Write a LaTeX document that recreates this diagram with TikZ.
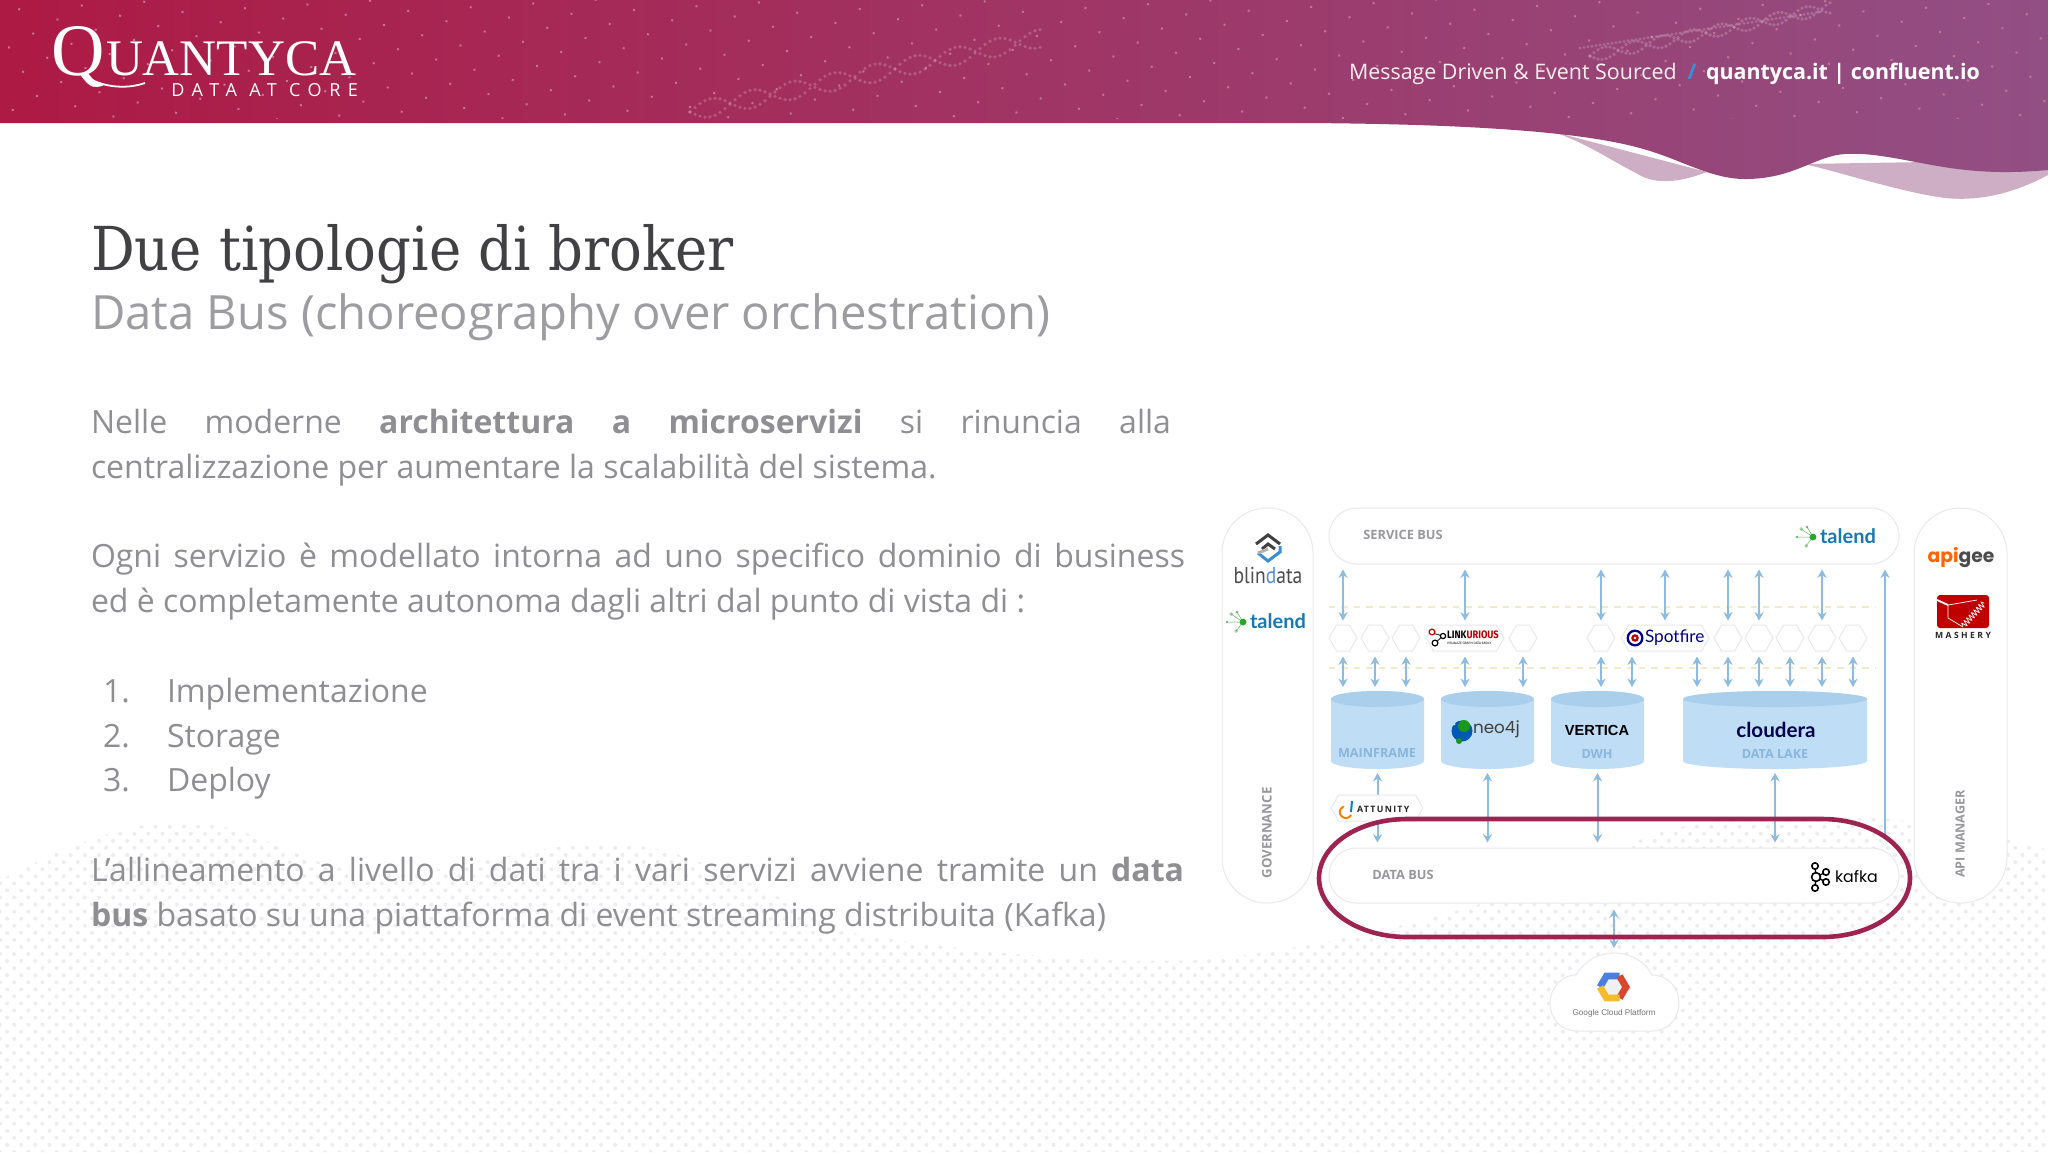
\documentclass[tikz,border=0pt]{standalone}
\usepackage{fontspec}
\usetikzlibrary{arrows.meta,shapes.symbols,patterns.meta,decorations.pathmorphing}
\setmainfont{Open Sans}
\newfontfamily\slabfont{DejaVu Serif Condensed}
\newfontfamily\logofont{Liberation Serif}
\newfontfamily\latofont{Lato}
\newfontfamily\popfont{Poppins}
\newfontfamily\ptfont{PT Sans}
\newfontfamily\firafont{Fira Sans}
\newfontfamily\helvfont{Liberation Sans}

\definecolor{headL}{HTML}{AD1A44}
\definecolor{headM}{HTML}{A42D5F}
\definecolor{headR}{HTML}{924F84}
\definecolor{waveC}{HTML}{CDAEC5}
\definecolor{bodyC}{HTML}{8F8F93}
\definecolor{subC}{HTML}{9D9DA1}
\definecolor{titleC}{HTML}{414144}
\definecolor{edgeC}{HTML}{E9E9EE}
\definecolor{flowC}{HTML}{8DBCE0}
\definecolor{zoneC}{HTML}{EEEDCB}
\definecolor{cylB}{HTML}{BFDDF4}
\definecolor{cylT}{HTML}{AACFEC}
\definecolor{cylL}{HTML}{88B6DC}
\definecolor{ringC}{HTML}{9E2350}
\definecolor{busC}{HTML}{98989C}
\definecolor{taleC}{HTML}{1878B4}
\definecolor{gcpB}{HTML}{4A7FE0}
\definecolor{gcpR}{HTML}{D9472F}
\definecolor{gcpY}{HTML}{F2BC2C}
\definecolor{dotC}{HTML}{EFECF0}

\newcommand\PX{0.5pt}
\newcommand\fs[2]{\fontsize{#1}{#2}\selectfont}
\newcommand\drum[2]{
  \fill[cylB] ([yshift=-8*\PX]#1.north west) -- ([yshift=8*\PX]#1.south west)
  arc[start angle=180,end angle=360,x radius=#2*\PX,y radius=8*\PX]
  -- ([yshift=-8*\PX]#1.north east) arc[start angle=0,end angle=180,x radius=#2*\PX,y radius=8*\PX] -- cycle;
  \fill[cylT] ([yshift=-8*\PX]#1.north west) arc[start angle=180,end angle=540,x radius=#2*\PX,y radius=8*\PX];
}

\tikzset{
  bare/.style={inner sep=0pt,outer sep=0pt},
  para/.style={bare,anchor=north west,align=justify,text=bodyC,font=\fs{16}{22.4}},
  item/.style={bare,anchor=base west,text=bodyC,font=\fs{16}{22.4}},
  pill/.style={draw=edgeC,fill=white,line width=.5pt,rectangle,inner sep=0pt},
  buslbl/.style={bare,text=busC,font=\bfseries\fs{6.4}{7}},
  hexbox/.style={signal,signal to=east and west,signal pointer angle=120,draw=edgeC,fill=white,
    line width=.5pt,inner sep=0pt,minimum height=26*\PX},
  store/.style={rectangle,inner sep=0pt,outer sep=0pt,minimum height=78*\PX},
  cyllbl/.style={bare,text=cylL,font=\bfseries\fs{6.3}{7}},
  flow/.style={draw=flowC,line width=1pt,<->,>={Stealth[length=4.2pt,width=4.6pt]}},
  flowup/.style={draw=flowC,line width=1pt,->,>={Stealth[length=4.2pt,width=4.6pt]}},
  zone/.style={draw=zoneC,line width=.7pt,dash pattern=on 3.2pt off 3pt},
  hdot/.style={fill=white,opacity=.2}
}

\begin{document}
\begin{tikzpicture}[x=0.5pt,y=-0.5pt]
  \useasboundingbox (0,0) rectangle (2048,1152);
  \fill[white] (0,0) rectangle (2048,1152);

  %% dotted ground
  \path[pattern={Dots[angle=45,distance=5pt,radius=1pt]},pattern color=dotC]
  (0,880) .. controls (50,855) and (110,825) .. (175,822)
  .. controls (250,820) and (290,860) .. (350,870)
  .. controls (430,885) and (520,845) .. (600,843)
  .. controls (680,842) and (740,880) .. (853,933)
  .. controls (950,950) and (1100,965) .. (1200,960)
  .. controls (1350,945) and (1530,900) .. (1640,840)
  .. controls (1700,812) and (1850,810) .. (1930,825)
  .. controls (1980,832) and (2020,842) .. (2048,850)
  -- (2048,1152) -- (0,1152) -- cycle;

  %% header
  \fill[waveC] (1554,132) .. controls (1590,145) and (1610,160) .. (1636,173)
  .. controls (1650,182) and (1670,186) .. (1707,172) -- cycle;
  \fill[waveC] (1804,164) .. controls (1840,172) and (1900,192) .. (1945,198)
  .. controls (1985,202) and (2020,190) .. (2048,175) -- (2048,160) -- cycle;
  \shade[left color=headL,middle color=headM,right color=headR]
  (0,0) -- (2048,0) -- (2048,170)
  .. controls (2015,173) and (1985,173) .. (1950,168)
  .. controls (1910,162) and (1875,152) .. (1845,154)
  .. controls (1815,156) and (1795,178) .. (1748,179)
  .. controls (1710,180) and (1680,158) .. (1636,147)
  .. controls (1590,135) and (1500,124) .. (1300,123)
  -- (0,123) -- cycle;
  \path[pattern={Dots[angle=30,distance=14pt,radius=.7pt]},pattern color=white!35!headM]
  (0,0) rectangle (2048,118);
  \foreach \i in {0,...,70}{
    \fill[hdot] ({690+\i*5},{112-\i*1.05+9*sin(\i*22)}) circle (1.8);
    \fill[hdot] ({690+\i*5},{112-\i*1.05-9*sin(\i*22)}) circle (1.8);
  }
  \foreach \i in {0,...,60}{
    \fill[hdot] ({1590+\i*4},{56-\i*.8+6*sin(\i*25)}) circle (1.8);
    \fill[hdot] ({1590+\i*4},{56-\i*.8-6*sin(\i*25)}) circle (1.8);
    \fill[hdot] ({1580+\i*4},{48-\i*.6}) circle (1.6);
  }

  %% logo
  \node[bare,anchor=base west,text=white,font=\logofont\fs{37}{37}] (logoq) at (51,75) {Q};
  \draw[white,line width=.9pt] (84,75) .. controls (100,87) and (125,90) .. (145,83);
  \node[bare,anchor=base west,text=white,font=\logofont\fs{25.6}{26}] (logoname) at (106,75) {UANTYCA};
  \node[bare,anchor=base east,text=white,font=\addfontfeatures{LetterSpace=42}\fs{9}{10}] (logotag) at (358,96) {DATA AT CORE};

  \node[bare,anchor=base west,text=white!75!pink,font=\fs{10.7}{12}] (headtxt) at (1349,79) {Message Driven \& Event Sourced};
  \node[bare,anchor=base,text=cyan!70!blue!85!white,font=\bfseries\fs{10.7}{12}] (headbar) at (1692,79) {/};
  \node[bare,anchor=base west,text=white,font=\bfseries\fs{10.7}{12}] (headurl) at (1706,79) {quantyca.it | confluent.io};

  %% text column
  \node[bare,anchor=base west,text=titleC,font=\slabfont\fs{30.3}{32}] (title) at (91,270) {Due tipologie di broker};
  \node[bare,anchor=base west,text=subC,font=\fs{23.6}{28}] (subtitle) at (91,329) {Data Bus (choreography over orchestration)};

  \node[para,text width=540pt] (parone) at (91,409) {Nelle moderne \textbf{architettura a microservizi} si rinuncia alla\linebreak centralizzazione per aumentare la scalabilità del sistema.};
  \node[para,text width=547pt] (partwo) at (91,543) {Ogni servizio è modellato intorna ad uno specifico dominio di business\linebreak ed è completamente autonoma dagli altri dal punto di vista di :};

  \node[item] (num1) at (103,702) {1.};
  \node[item] (itm1) at (167,702) {Implementazione};
  \node[item] (num2) at (103,747) {2.};
  \node[item] (itm2) at (167,747) {Storage};
  \node[item] (num3) at (103,791) {3.};
  \node[item] (itm3) at (167,791) {Deploy};

  \node[para,text width=546.5pt] (parthr) at (91,857) {L’allineamento a livello di dati tra i vari servizi avviene tramite un \textbf{data}\linebreak \textbf{bus} basato su una piattaforma di event streaming distribuita (Kafka)};

  %% columns and buses
  \node[pill,rounded corners=45*\PX,minimum width=91*\PX,minimum height=395*\PX] (gov) at (1267.5,705.5) {};
  \node[pill,rounded corners=46*\PX,minimum width=93*\PX,minimum height=395*\PX] (api) at (1960.5,705.5) {};
  \node[pill,rounded corners=28*\PX,minimum width=570*\PX,minimum height=56*\PX] (sbus) at (1614,536) {};
  \node[pill,rounded corners=27*\PX,minimum width=570*\PX,minimum height=55*\PX] (dbus) at (1614,875.5) {};

  \node[buslbl] (sbuslbl) at (1403,535) {SERVICE BUS};
  \node[buslbl] (dbuslbl) at (1403,875) {DATA BUS};
  \node[bare,rotate=90,text=busC,font=\bfseries\fs{6.6}{7}] (govlbl) at (1267,833) {GOVERNANCE};
  \node[bare,rotate=90,text=busC,font=\bfseries\fs{6.3}{7}] (apilbl) at (1960,834) {API MANAGER};

  %% hexagon row
  \foreach \n/\x in {a1/1343,a2/1375,a3/1406,a4/1523,a5/1601,a6/1728,a7/1759,a8/1790,a9/1822,a10/1853}{
    \node[hexbox,minimum width=28*\PX] (\n) at (\x,638) {};
  }
  \node[hexbox,minimum width=78*\PX] (link) at (1465,638) {};
  \node[hexbox,minimum width=88*\PX] (spot) at (1665,638) {};

  %% stores
  \node[store,minimum width=93*\PX] (mfr) at (1377.5,730) {};
  \node[store,minimum width=93*\PX] (neo) at (1487.5,730) {};
  \node[store,minimum width=93*\PX] (ver) at (1597.5,730) {};
  \node[store,minimum width=184*\PX] (clou) at (1775,730) {};
  \drum{mfr}{46.5}
  \drum{neo}{46.5}
  \drum{ver}{46.5}
  \drum{clou}{92}

  \node[cyllbl] (mfrlbl) at (1377,753) {MAINFRAME};
  \node[cyllbl] (verlbl) at (1597,754) {DWH};
  \node[cyllbl] (cloulbl) at (1775,754) {DATA LAKE};

  %% zones
  \coordinate (zone1a) at (1329,607);
  \coordinate (zone1b) at (1876,607);
  \coordinate (zone2a) at (1329,668);
  \coordinate (zone2b) at (1876,668);
  \draw[zone] (zone1a) -- (zone1b);
  \draw[zone] (zone2a) -- (zone2b);

  %% hexagons -> service bus
  \foreach \n in {a1,link,a5,spot,a6,a7,a9}{
    \draw[flow,shorten <=4*\PX,shorten >=5*\PX] (\n.north) -- (\n.north |- sbus.south);
  }
  %% hexagons -> stores
  \foreach \n/\c in {a1/mfr,a2/mfr,a3/mfr,link/neo,a4/neo,a5/ver,a6/clou,a7/clou,a8/clou,a9/clou,a10/clou}{
    \draw[flow,shorten <=5*\PX,shorten >=4*\PX] (\n.south) -- (\n.south |- \c.north);
  }
  \draw[flow,shorten <=5*\PX,shorten >=4*\PX] ([xshift=-33*\PX]spot.south) -- ([xshift=-33*\PX]spot.south |- ver.north);
  \draw[flow,shorten <=5*\PX,shorten >=4*\PX] ([xshift=32*\PX]spot.south) -- ([xshift=32*\PX]spot.south |- clou.north);
  %% stores -> data bus
  \foreach \n in {mfr,neo,ver,clou}{
    \draw[flow,shorten <=4*\PX,shorten >=5*\PX] (\n.south) -- (\n.south |- dbus.north);
  }
  %% data bus -> service bus
  \coordinate (lanefoot) at (1885,835);
  \draw[flowup,shorten >=5*\PX] (lanefoot) -- (lanefoot |- sbus.south);
  %% data bus -> cloud
  \coordinate (gcptop) at (1614,953);
  \draw[flow,shorten <=6*\PX,shorten >=5*\PX] (gcptop |- dbus.south) -- (gcptop);

  %% cloud
  \draw[draw=edgeC,fill=white,line width=.5pt] (1578,1031) .. controls (1560,1031) and (1550,1018) .. (1550,1003)
  .. controls (1550,988) and (1562,975) .. (1576,975)
  .. controls (1584,961) and (1599,953) .. (1614,953)
  .. controls (1630,953) and (1645,961) .. (1652,975)
  .. controls (1668,975) and (1679,988) .. (1679,1003)
  .. controls (1679,1018) and (1668,1031) .. (1652,1031) -- cycle;
  \fill[black!6] (1603,987) -- (1608,978) -- (1618,978) -- (1623,987) -- (1618,996) -- (1608,996) -- cycle;
  \draw[line width=3.4pt,color=gcpB,line join=miter] (1600,987) -- (1606.5,976) -- (1619.5,976);
  \draw[line width=3.4pt,color=gcpR,line join=miter] (1619.5,976) -- (1626,987) -- (1619.5,998);
  \draw[line width=3.4pt,color=gcpY,line join=miter] (1619.5,998) -- (1606.5,998) -- (1600,987);
  \node[bare,text=black!55,font=\helvfont\fs{4.1}{5}] (gcplbl) at (1614,1013) {Google Cloud Platform};

  %% tag on the first store arrow
  \node[hexbox,minimum width=92*\PX] (attu) at (1377,808) {};
  \draw[line width=1pt,color=orange] (1351,815) arc[start angle=-30,end angle=-250,radius=3pt];
  \draw[line width=1pt,color=cyan!60!blue] (1352,801) -- (1351,812);
  \node[bare,anchor=west,text=black!85,font=\bfseries\addfontfeatures{LetterSpace=15}\fs{4.4}{5}] (attulbl) at (1357,809) {ATTUNITY};

  %% logos in the hexagons
  \draw[line width=.5pt,black!80] (1432,633) -- (1443,636) -- (1435,643);
  \filldraw[draw=red!75!black,fill=white,line width=.6pt] (1432,632) circle (2.9);
  \filldraw[draw=black,fill=white,line width=.6pt] (1443,636) circle (2.6);
  \filldraw[draw=black,fill=white,line width=.6pt] (1435,643) circle (2.9);
  \node[bare,anchor=west,font=\firafont\bfseries\fs{5.4}{6}] (linklbl) at (1447,635) {\scalebox{.86}[1]{LINK\textcolor{red!70!black}{URIOUS}}};
  \node[bare,anchor=west,font=\firafont\fs{1.65}{2}] (linksub) at (1447,643) {VISUALIZE GRAPH DATA EASILY};

  \fill[blue!55!black] (1635,638) circle (8.5);
  \fill[white] (1635,638) circle (6);
  \fill[red!75!black] (1635,638) circle (3.8);
  \fill[white] (1635,638) circle (1.4);
  \node[bare,anchor=west,text=blue!50!black,font=\latofont\fs{8.6}{9}] (spotlbl) at (1645,638) {Spotfire};

  %% logos in the stores
  \fill[black!0!blue!50!cyan!70!black] (1462,731) circle (10.5);
  \fill[green!55!black!90!white] (1464,726) circle (6);
  \fill[green!55!black!90!white] (1459,741) circle (3);
  \fill[cylB] (1454,724) circle (1.6);
  \node[bare,anchor=west,text=black!75,font=\popfont\fs{8.4}{9}] (neolbl) at (1473,729) {neo4j};
  \node[bare,text=black,font=\helvfont\bfseries\fs{7.3}{8}] (vertlbl) at (1597,730) {VERTICA};
  \node[bare,text=blue!30!black,font=\latofont\bfseries\fs{10.3}{11}] (cloudlbl) at (1776,730) {cloudera};

  %% governance logos
  \draw[line width=1.5pt,black!75] (1256,544) -- (1268,535) -- (1280,544);
  \draw[line width=1.5pt,black!75] (1262,549) -- (1268,544) -- (1275,549);
  \draw[line width=1.5pt,cyan!60!blue!80!white] (1280,546) -- (1280,552) -- (1268,561) -- (1258,553);
  \draw[line width=1.5pt,black!30] (1258,553) -- (1268,549);
  \node[bare,font=\ptfont\fs{11.5}{12},text=black!70] (blindlbl) at (1268,575) {\scalebox{.85}[1]{blin\textcolor{cyan!50!blue!70!white}{d}ata}};

  \foreach \cx/\cy/\nm in {1243/622/mark1,1813/537/mark2}{
    \coordinate (\nm) at (\cx,\cy);
    \draw[line width=.25pt,green!50!black!60!white] (\nm) -- ++(-12,-8) circle (1.4);
    \draw[line width=.25pt,green!50!black!60!white] (\nm) -- ++(-16,0) circle (1);
    \draw[line width=.25pt,green!50!black!60!white] (\nm) -- ++(-6,-10) circle (1);
    \draw[line width=.25pt,green!50!black!60!white] (\nm) -- ++(-7,9) circle (1.4);
    \fill[green!60!black!85!white] (\nm) circle (3.4);
  }
  \node[bare,anchor=west,text=taleC,font=\latofont\bfseries\fs{10}{11}] (tale1) at (1250,621) {talend};
  \node[bare,anchor=west,text=taleC,font=\latofont\bfseries\fs{10}{11}] (tale2) at (1820,536) {talend};

  %% api manager logos
  \node[bare,font=\popfont\bfseries\fs{9.4}{10},text=black!70] (apigee) at (1961,558) {\textcolor{orange!80!red}{api}gee};
  \node[fill=red!75!black,rounded corners=3*\PX,minimum width=52*\PX,minimum height=33*\PX,inner sep=0pt] (mash) at (1963,611.5) {};
  \draw[white,line width=.9pt] (1937,600) -- (1948,605);
  \draw[white,line width=.35pt] (1977,600) -- (1948,605) -- (1948,618) -- (1963,627);
  \draw[white,line width=.35pt,decorate,decoration={snake,amplitude=1.4pt,segment length=1.8pt}] (1963,626) -- (1984,603);
  \node[bare,text=black!85,font=\bfseries\addfontfeatures{LetterSpace=28}\fs{4.3}{5}] (mashlbl) at (1963,635) {MASHERY};

  %% kafka logo
  \draw[line width=.7pt] (1815,866) -- (1816,877) -- (1815,888);
  \draw[line width=.7pt] (1826,872) -- (1816,877) -- (1826,882);
  \foreach \x/\y/\r in {1815/866/3.2,1826/872/3.2,1816/877/4.4,1826/882/3.2,1815/888/3.2}{
    \filldraw[draw=black,fill=white,line width=.8pt] (\x,\y) circle (\r);
  }
  \node[bare,anchor=west,text=black,font=\popfont\fs{7.9}{9}] (kafkalbl) at (1835,877) {kafka};

  %% highlight ring
  \draw[draw=ringC,line width=2.3pt] (1407,819) -- (1822,819)
  arc[start angle=90,end angle=-90,x radius=88*\PX,y radius=59*\PX]
  -- (1407,937) arc[start angle=270,end angle=90,x radius=88*\PX,y radius=59*\PX] -- cycle;

\end{tikzpicture}
\end{document}
